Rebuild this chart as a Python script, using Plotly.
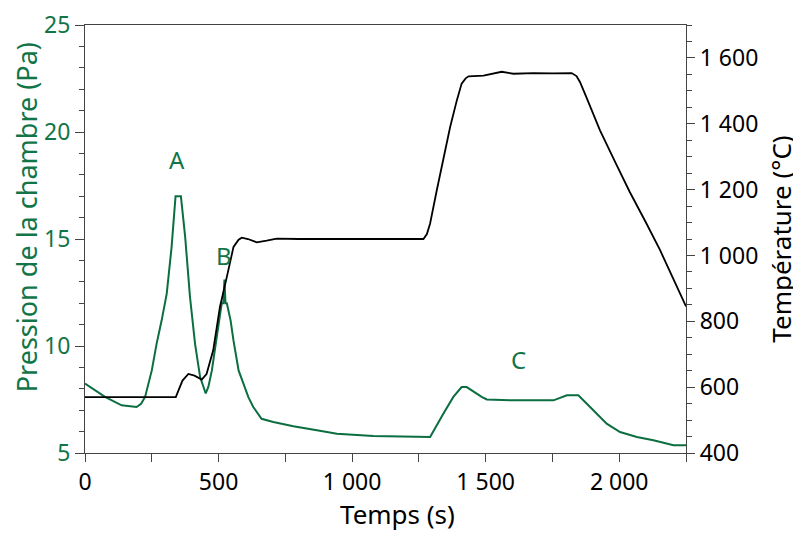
import plotly.graph_objects as go

# ---- data ----
time_temp = [0, 340, 350, 365, 387, 410, 437, 455, 480, 505, 531, 556, 575, 587, 610, 643, 680, 718, 800, 1000,
             1267, 1280, 1292, 1317, 1342, 1367, 1392, 1410, 1425, 1436, 1492, 1535, 1560, 1604, 1679, 1750, 1822,
             1840, 1853, 1875, 1897, 1928, 1990, 2040, 2100, 2153, 2250]
temperature = [570, 570, 590, 620, 640, 635, 623, 640, 712, 843, 935, 1026, 1048, 1054, 1050, 1040, 1045, 1051, 1050, 1050,
               1050, 1065, 1097, 1198, 1299, 1390, 1471, 1522, 1538, 1544, 1546, 1555, 1558, 1552, 1554, 1553, 1554,
               1545, 1527, 1485, 1441, 1380, 1275, 1192, 1100, 1016, 845]

time_pres = [0, 40, 75, 137, 193, 210, 225, 250, 268, 287, 306, 324, 339, 359, 375, 393, 412, 431, 452, 462, 475, 493,
             512, 518, 522, 526, 531, 545, 556, 575, 593, 612, 630, 661, 705, 780, 868, 943, 1079, 1200, 1292, 1342,
             1379, 1410, 1429, 1485, 1504, 1600, 1754, 1804, 1847, 1903, 1953, 2003, 2066, 2128, 2203, 2250]
pressure = [8.24, 7.9, 7.62, 7.23, 7.15, 7.3, 7.62, 8.86, 10.1, 11.2, 12.45, 14.6, 17.0, 17.0, 15.1, 12.3, 10.1, 8.55,
            7.78, 8.1, 8.86, 10.4, 12.0, 12.0, 13.1, 12.0, 12.0, 11.2, 10.25, 8.86, 8.2, 7.6, 7.15, 6.6, 6.45, 6.25,
            6.06, 5.9, 5.8, 5.77, 5.75, 6.84, 7.62, 8.08, 8.08, 7.62, 7.5, 7.46, 7.46, 7.7, 7.7, 7.0, 6.37, 5.98,
            5.75, 5.6, 5.36, 5.36]

peak_labels = ["A", "B", "C"]
peak_t = [344, 520, 1622]
peak_p = [18.72, 14.24, 9.36]

x_tickvals = [0, 500, 1000, 1500, 2000]
x_ticktext = ["0", "500", "1 000", "1 500", "2 000"]
y_tickvals = [5, 10, 15, 20, 25]
y2_tickvals = [400, 600, 800, 1000, 1200, 1400, 1600]
y2_ticktext = ["400", "600", "800", "1 000", "1 200", "1 400", "1 600"]

GREEN = "#0b6e40"
GREEN_TXT = "#127548"
FONT = "Noto Sans"

fig = go.Figure()
fig.add_trace(go.Scatter(x=time_pres, y=pressure, mode="lines",
                         line=dict(color=GREEN, width=2), yaxis="y", showlegend=False))
fig.add_trace(go.Scatter(x=time_temp, y=temperature, mode="lines",
                         line=dict(color="black", width=1.8),
                         yaxis="y2", showlegend=False))

for lab, t, p in zip(peak_labels, peak_t, peak_p):
    fig.add_annotation(x=t, y=p, xref="x", yref="y", text=lab, showarrow=False,
                       font=dict(family=FONT, size=24, color=GREEN_TXT))

# axis titles placed as in the reference
fig.add_annotation(x=0.52, y=-0.143, xref="paper", yref="paper", text="Temps (s)", showarrow=False,
                   xanchor="center", yanchor="middle", font=dict(family=FONT, size=26, color="black"))
fig.add_annotation(x=-0.098, y=0.551, xref="paper", yref="paper", text="Pression de la chambre (Pa)",
                   showarrow=False, textangle=-90, xanchor="center", yanchor="middle",
                   font=dict(family=FONT, size=27, color=GREEN_TXT))

fig.update_layout(
    width=801, height=533,
    margin=dict(l=77, r=123, t=17, b=88),
    paper_bgcolor="white", plot_bgcolor="white",
    font=dict(family=FONT, size=23, color="black"),
    xaxis=dict(range=[0, 2250], tickvals=x_tickvals, ticktext=x_ticktext, automargin=False,
               showline=True, linecolor="#444", linewidth=1.2, mirror=True,
               ticks="outside", ticklen=8, tickcolor="#444",
               minor=dict(dtick=250, tick0=0, ticks="outside", ticklen=8, tickcolor="#444"),
               showgrid=False, zeroline=False),
    yaxis=dict(range=[5, 25], tickvals=y_tickvals, showline=True, linecolor="#444", linewidth=1.2,
               automargin=False,
               ticks="outside", ticklen=9, tickcolor="#444",
               minor=dict(dtick=1, tick0=5, ticks="outside", ticklen=5, tickcolor="#444"),
               tickfont=dict(color=GREEN_TXT), showgrid=False, zeroline=False),
    yaxis2=dict(range=[400, 1700], overlaying="y", side="right", tickvals=y2_tickvals, ticktext=y2_ticktext,
                automargin=False,
                showline=True, linecolor="#444", linewidth=1.2,
                ticks="outside", ticklen=8, tickcolor="#444",
                minor=dict(dtick=50, tick0=400, ticks="outside", ticklen=5, tickcolor="#444"),
                showgrid=False, zeroline=False,
                title=dict(text="Température (°C)", font=dict(size=26, color="black"), standoff=15)),
)

fig.write_html("out.html")
